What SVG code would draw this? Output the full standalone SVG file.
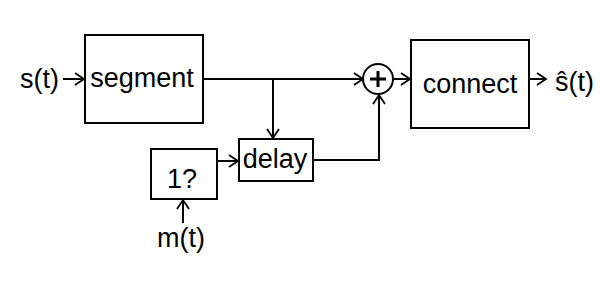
<svg xmlns="http://www.w3.org/2000/svg" width="605" height="281" viewBox="0 0 605 281">
  <style>
    .box { fill: #fff; stroke: #000; stroke-width: 2; }
    .wire { fill: none; stroke: #000; stroke-width: 2; }
    .lbl { font-family: "Liberation Sans", Arial, sans-serif; font-size: 27px; fill: #000; }
  </style>
  <defs>
    <marker id="arrow" markerUnits="userSpaceOnUse" markerWidth="12" markerHeight="14" viewBox="0 0 12 14" refX="10" refY="7" orient="auto">
      <path d="M1,1 L10,7 L1,13" fill="none" stroke="#000" stroke-width="1.8"/>
    </marker>
  </defs>
  <rect width="605" height="281" fill="#fff"/>

  <g id="connectors">
    <line class="wire" x1="63" y1="79" x2="84" y2="79" marker-end="url(#arrow)"/>
    <line class="wire" x1="203" y1="79" x2="363" y2="79" marker-end="url(#arrow)"/>
    <polyline class="wire" points="273,79 273,138" marker-end="url(#arrow)"/>
    <line class="wire" x1="217" y1="161" x2="238" y2="161" marker-end="url(#arrow)"/>
    <polyline class="wire" points="313,160 379,160 379,95" marker-end="url(#arrow)"/>
    <line class="wire" x1="183" y1="223" x2="183" y2="200" marker-end="url(#arrow)"/>
    <line class="wire" x1="393" y1="79" x2="410" y2="79" marker-end="url(#arrow)"/>
    <line class="wire" x1="529" y1="79" x2="546" y2="79" marker-end="url(#arrow)"/>
  </g>

  <g id="input">
    <text class="lbl" x="20" y="88">s(t)</text>
  </g>

  <g id="segment">
    <rect class="box" x="85" y="35" width="118" height="88"/>
    <text class="lbl" x="142" y="87" text-anchor="middle">segment</text>
  </g>

  <g id="sum">
    <circle class="wire" cx="378" cy="79" r="15"/>
    <path d="M370,79 H386 M378,71 V87" stroke="#000" stroke-width="3" fill="none"/>
  </g>

  <g id="connect">
    <rect class="box" x="411" y="40" width="118" height="88"/>
    <text class="lbl" x="470" y="93" text-anchor="middle">connect</text>
  </g>

  <g id="output">
    <text class="lbl" x="555" y="91">ŝ(t)</text>
  </g>

  <g id="delay">
    <rect class="box" x="239" y="139" width="74" height="42"/>
    <text class="lbl" x="275" y="168" text-anchor="middle">delay</text>
  </g>

  <g id="one-check">
    <rect class="box" x="151" y="149" width="66" height="50"/>
    <text class="lbl" x="182" y="188" text-anchor="middle">1?</text>
  </g>

  <g id="mark">
    <text class="lbl" x="181" y="247" text-anchor="middle">m(t)</text>
  </g>
</svg>
